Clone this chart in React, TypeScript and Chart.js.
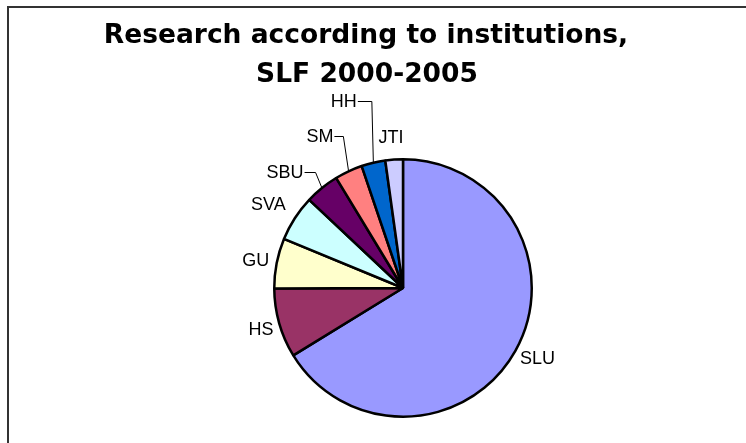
import React, { useEffect, useRef } from "react";
import { Chart, registerables } from "chart.js";

Chart.register(...registerables);

// ---- data ----
const institutions: string[] = ["SLU", "HS", "GU", "SVA", "SBU", "SM", "HH", "JTI"];
const shares: number[] = [66.3, 8.7, 6.3, 5.8, 4.3, 3.5, 3.0, 2.2];
const titleLines: string[] = ["Research according to institutions,", "SLF 2000-2005"];

// ---- styles ----
const sliceColors: string[] = ["#9999FF", "#993366", "#FFFFCC", "#CCFFFF", "#660066", "#FF8080", "#0066CC", "#CCCCFF"];
// label placement: radial distance from centre, angular shift (deg), leader length (0 = none)
const labelDist: number[] = [152, 148, 149.5, 158, 165, 172, 195, 150.5];
const labelShift: number[] = [-1.4, -0.4, -0.85, -1.3, -6.6, -3.9, -4.35, -0.6];
const leaderLen: number[] = [0, 0, 0, 0, 11, 9, 14, 0];

const W = 746;
const H = 443;

const decorPlugin = {
  id: "decor",
  beforeDraw(chart: any) {
    const ctx = chart.ctx;
    ctx.save();
    ctx.fillStyle = "#ffffff";
    ctx.fillRect(0, 0, chart.width, chart.height);
    ctx.strokeStyle = "#333333";
    ctx.lineWidth = 2;
    ctx.strokeRect(8, 7, chart.width + 20, chart.height + 20);
    // title
    ctx.fillStyle = "#000000";
    ctx.font = "bold 26.5px 'DejaVu Sans', Verdana, sans-serif";
    ctx.textAlign = "center";
    ctx.textBaseline = "alphabetic";
    ctx.fillText(titleLines[0], 366, 43);
    ctx.fillText(titleLines[1], 367, 82);
    ctx.restore();
  },
  afterDatasetsDraw(chart: any) {
    const ctx = chart.ctx;
    const meta = chart.getDatasetMeta(0);
    ctx.save();
    ctx.font = "18px 'Liberation Sans', Arial, sans-serif";
    ctx.fillStyle = "#000000";
    ctx.strokeStyle = "#000000";
    ctx.lineWidth = 1;
    ctx.textAlign = "center";
    ctx.textBaseline = "middle";
    meta.data.forEach((arc: any, i: number) => {
      const p = arc.getProps(["x", "y", "startAngle", "endAngle", "outerRadius"], true);
      const mid = (p.startAngle + p.endAngle) / 2;
      const a = mid + (labelShift[i] * Math.PI) / 180;
      const cx = p.x + labelDist[i] * Math.cos(a);
      const cy = p.y + labelDist[i] * Math.sin(a);
      ctx.fillText(institutions[i], cx, cy);
      if (leaderLen[i] > 0) {
        const w = ctx.measureText(institutions[i]).width;
        const sx = cx + w / 2 + 1;
        const ly = Math.round(cy - 1) + 0.5;
        const ex = p.x + p.outerRadius * Math.cos(mid);
        const ey = p.y + p.outerRadius * Math.sin(mid);
        ctx.beginPath();
        ctx.moveTo(sx, ly);
        ctx.lineTo(sx + leaderLen[i], ly);
        ctx.lineTo(ex, ey);
        ctx.stroke();
      }
    });
    ctx.restore();
  },
};

export default function App() {
  const ref = useRef<HTMLCanvasElement | null>(null);
  useEffect(() => {
    if (!ref.current) return;
    const chart = new Chart(ref.current, {
      type: "pie",
      data: {
        labels: institutions,
        datasets: [
          {
            data: shares,
            backgroundColor: sliceColors,
            borderColor: "#000000",
            borderWidth: 2.5,
          },
        ],
      },
      options: {
        responsive: false,
        animation: false,
        layout: { padding: { left: 273, right: 213, top: 158, bottom: 25 } },
        plugins: {
          legend: { display: false },
          tooltip: { enabled: false },
          title: { display: false },
        },
      },
      plugins: [decorPlugin],
    });
    return () => chart.destroy();
  }, []);
  return (
    <div style={{ position: "absolute", left: 0, top: 0, width: W, height: H, background: "#fff" }}>
      <canvas ref={ref} width={W} height={H} style={{ width: W, height: H, display: "block" }} />
    </div>
  );
}
